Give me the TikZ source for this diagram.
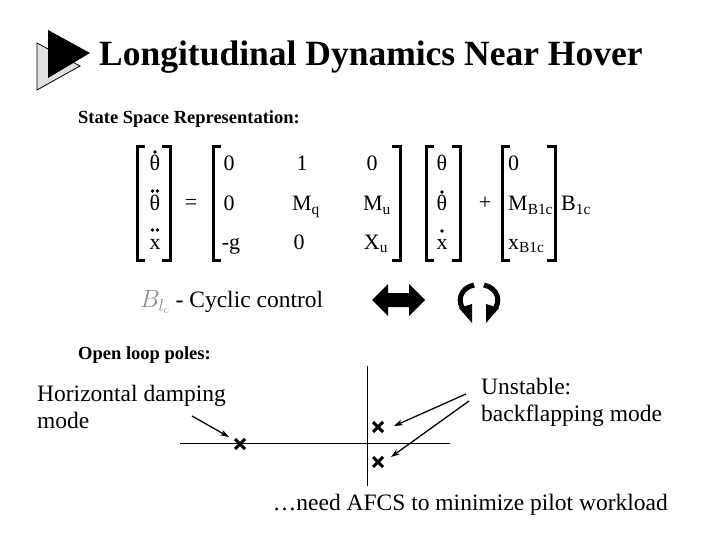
\documentclass[tikz,border=0pt]{standalone}
\usepackage{fontspec}
\setmainfont{Liberation Serif}
\usetikzlibrary{arrows.meta}
\begin{document}
\begin{tikzpicture}[x=1pt,y=-1pt,
  ent/.style={font=\fontsize{22}{24}\selectfont,inner sep=0pt,anchor=base},
  brk/.style={line width=3pt},
  lbl/.style={font=\fontsize{23.5}{27}\selectfont,align=left,inner sep=0pt},
  pole/.style={line width=3pt},
  pt/.style={-{Stealth[length=9pt,width=6pt]},line width=1.3pt}]
\useasboundingbox (0,0) rectangle (720,540);
% icon
\filldraw[fill=black!12,draw=black,line width=0.8pt] (37,43) -- (80,66) -- (37,90) -- cycle;
\fill (48,30) -- (90,53) -- (48,78) -- cycle;
\node[anchor=west,font=\bfseries\fontsize{35.5}{40}\selectfont,inner sep=0pt] (title) at (99,57) {Longitudinal Dynamics Near Hover};
\node[anchor=west,font=\bfseries\fontsize{18.5}{22}\selectfont,inner sep=0pt] (ss) at (78,119) {State Space Representation:};
% brackets
\foreach \l in {137, 213, 426, 502}{
 \draw[brk] (\l+8,147) -- (\l,147) -- (\l,260) -- (\l+8,260);
}
\foreach \r in {170, 400, 460, 555}{
 \draw[brk] (\r-8,147) -- (\r,147) -- (\r,260) -- (\r-8,260);
}
% entries
\node[ent] (a1) at (155,171) {θ};
\node[ent] (a2) at (155,211) {θ};
\node[ent] (a3) at (155,249) {x};
\fill (155,152) circle (1.9);
\fill (152.5,191) circle (1.9) (157.5,191) circle (1.9);
\fill (152.5,230) circle (1.9) (157.5,230) circle (1.9);
\node[ent] (eq) at (191,210) {=};
\node[ent] (m11) at (229,171) {0};
\node[ent] (m12) at (302,171) {1};
\node[ent] (m13) at (372,171) {0};
\node[ent] (m21) at (229,211) {0};
\node[ent] (m22) at (306,211) {M\textsubscript{q}};
\node[ent] (m23) at (377,211) {M\textsubscript{u}};
\node[ent] (m31) at (231,249) {-g};
\node[ent] (m32) at (299,249) {0};
\node[ent] (m33) at (376,249) {X\textsubscript{u}};
\node[ent] (v1) at (442,171) {θ};
\node[ent] (v2) at (442,211) {θ};
\node[ent] (v3) at (442,249) {x};
\fill (442,192) circle (1.9);
\fill (442,231) circle (1.9);
\node[ent] (plus) at (485,210) {+};
\node[ent,anchor=base west] (b1) at (508,171) {0};
\node[ent,anchor=base west] (b2) at (508,211) {M\textsubscript{B1c}};
\node[ent,anchor=base west] (b3) at (508,249) {x\textsubscript{B1c}};
\node[ent,anchor=base west] (u) at (561,211) {B\textsubscript{1c}};
% cyclic control
\node[anchor=west,inner sep=0pt,font=\fontsize{23.5}{27}\selectfont] (cyc) at (140,302) {\textcolor{black!45}{$B_{l_c}$} - Cyclic control};
% double arrow
\fill (372,300) -- (388,284) -- (388,293) -- (409,293) -- (409,284) -- (425,300) -- (409,316) -- (409,307) -- (388,307) -- (388,316) -- cycle;
% circular arrows
\draw[line width=5pt] (474,285) .. controls (460,288) and (456,302) .. (465,311);
\fill (459,308) -- (472,304) -- (472,323) -- cycle;
\draw[line width=5pt] (484,285) .. controls (498,288) and (502,302) .. (493,311);
\fill (499,308) -- (486,304) -- (486,323) -- cycle;
% poles
\node[anchor=west,font=\bfseries\fontsize{18.5}{22}\selectfont,inner sep=0pt] (ol) at (78,355) {Open loop poles:};
\draw[line width=0.8pt] (180,443) -- (450,443);
\draw[line width=0.8pt] (367,366) -- (367,486);
\coordinate (p1) at (240,444);
\coordinate (p2) at (378,427);
\coordinate (p3) at (378,462);
\foreach \p in {p1,p2,p3}{
 \draw[pole] ([shift={(-5,-5)}]\p) -- ([shift={(5,5)}]\p);
 \draw[pole] ([shift={(-5,5)}]\p) -- ([shift={(5,-5)}]\p);
}
\node[lbl,anchor=north west] (hd) at (37,385) {Horizontal damping\\mode};
\node[lbl,anchor=north west] (un) at (481,378) {Unstable:\\backflapping mode};
\coordinate (h0) at (192,416);
\coordinate (u0) at (466,394);
\coordinate (u1) at (469,401);
\draw[pt] (h0) -- (229,437);
\draw[pt] (u0) -- (394,426);
\draw[pt] (u1) -- (391,457);
\node[anchor=east,inner sep=0pt,font=\fontsize{23.5}{27}\selectfont] (afcs) at (668,505) {\dots need AFCS to minimize pilot workload};
\end{tikzpicture}
\end{document}
